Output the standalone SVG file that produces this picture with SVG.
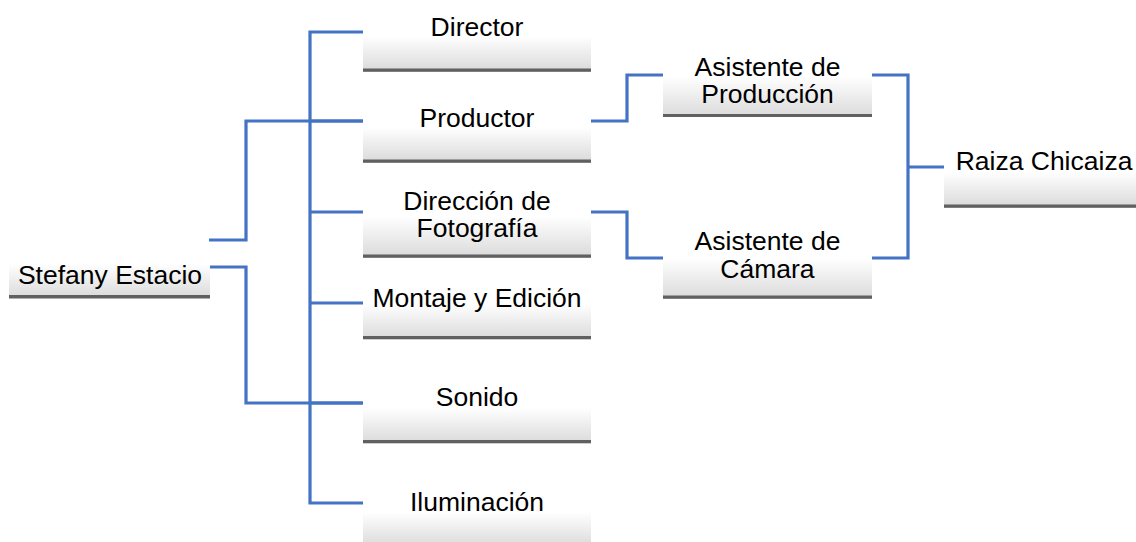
<svg xmlns="http://www.w3.org/2000/svg" width="1136" height="542" viewBox="0 0 1136 542">
<defs>
<linearGradient id="g" x1="0" y1="0" x2="0" y2="1">
<stop offset="0" stop-color="#ffffff"/>
<stop offset="0.3" stop-color="#ffffff"/>
<stop offset="1" stop-color="#dcdcdc"/>
</linearGradient>
<style>
.box{fill:url(#g);}
.bar{fill:#606060;}
.t{font-family:"Liberation Sans",Arial,sans-serif;font-size:26.5px;fill:#000;text-anchor:middle;}
.c{fill:none;stroke:#4472C4;stroke-width:3.2;}
</style>
</defs>
<rect width="1136" height="542" fill="#ffffff"/>
<g id="connectors">
<path class="c" d="M209,240 H246 V121 H363"/>
<path class="c" d="M209,267 H246 V403 H363"/>
<path class="c" d="M363,32 H310 V503 H363"/>
<path class="c" d="M310,121 H363 M310,212 H363 M310,303 H363 M310,403 H363"/>
<path class="c" d="M591,121 H627 V75 H663"/>
<path class="c" d="M591,212 H627 V258 H663"/>
<path class="c" d="M872,75 H908 V258 H872 M908,167 H944"/>
</g>
<g id="stefany">
<rect class="box" x="9" y="250" width="201" height="46"/>
<rect class="bar" x="9" y="295" width="201" height="3.5"/>
<text class="t" x="110" y="284">Stefany Estacio</text>
</g>
<g id="director">
<rect class="box" x="363" y="22" width="228" height="47"/>
<rect class="bar" x="363" y="68.5" width="228" height="3.3"/>
<text class="t" x="477" y="36">Director</text>
</g>
<g id="productor">
<rect class="box" x="363" y="113" width="228" height="47"/>
<rect class="bar" x="363" y="159.5" width="228" height="3.3"/>
<text class="t" x="477" y="127">Productor</text>
</g>
<g id="fotografia">
<rect class="box" x="363" y="200" width="228" height="55"/>
<rect class="bar" x="363" y="254.5" width="228" height="3.3"/>
<text class="t" x="477" y="210">Dirección de</text>
<text class="t" x="477" y="237">Fotografía</text>
</g>
<g id="montaje">
<rect class="box" x="363" y="290" width="228" height="47"/>
<rect class="bar" x="363" y="336" width="228" height="3.3"/>
<text class="t" x="477" y="306.5">Montaje y Edición</text>
</g>
<g id="sonido">
<rect class="box" x="363" y="394" width="228" height="47"/>
<rect class="bar" x="363" y="440" width="228" height="3.3"/>
<text class="t" x="477" y="406">Sonido</text>
</g>
<g id="iluminacion">
<rect class="box" x="363" y="498" width="228" height="47"/>
<rect class="bar" x="363" y="544" width="228" height="3.3"/>
<text class="t" x="477" y="510.5">Iluminación</text>
</g>
<g id="asistente-produccion">
<rect class="box" x="663" y="60" width="209" height="55"/>
<rect class="bar" x="663" y="114" width="209" height="3"/>
<text class="t" x="767.5" y="76">Asistente de</text>
<text class="t" x="767.5" y="103">Producción</text>
</g>
<g id="asistente-camara">
<rect class="box" x="663" y="242" width="209" height="54"/>
<rect class="bar" x="663" y="295.5" width="209" height="3.3"/>
<text class="t" x="767.5" y="250">Asistente de</text>
<text class="t" x="767.5" y="277.5">Cámara</text>
</g>
<g id="raiza">
<rect class="box" x="944" y="158" width="192" height="47"/>
<rect class="bar" x="944" y="204.5" width="192" height="3.3"/>
<text class="t" x="1044" y="170">Raiza Chicaiza</text>
</g>
</svg>
